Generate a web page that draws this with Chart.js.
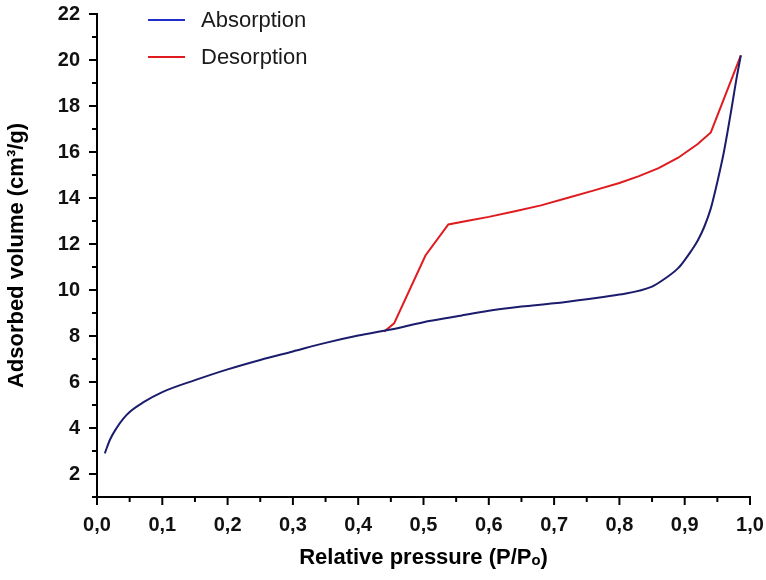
<!DOCTYPE html>
<html>
<head>
<meta charset="utf-8">
<script src="https://cdn.jsdelivr.net/npm/chart.js@4.4.1/dist/chart.umd.min.js"></script>
<style>
  html, body { margin: 0; padding: 0; background: #fff; }
  #wrap { width: 766px; height: 580px; }
</style>
</head>
<body>
<div id="wrap"><canvas id="isotherm" width="766" height="580"></canvas></div>
<script>
const absPressure = [0.012, 0.02, 0.03, 0.04, 0.05, 0.07, 0.1, 0.15, 0.2, 0.25, 0.3, 0.35, 0.4, 0.45,
    0.5, 0.55, 0.6, 0.65, 0.7, 0.75, 0.8, 0.85, 0.87, 0.89, 0.9, 0.91, 0.92, 0.93, 0.94, 0.95, 0.96, 0.97, 0.98, 0.986];
const absVolume = [2.9, 3.5, 4.0, 4.4, 4.7, 5.1, 5.56, 6.08, 6.55, 6.96, 7.33, 7.7, 8.02, 8.28,
    8.6, 8.85, 9.1, 9.28, 9.42, 9.6, 9.8, 10.15, 10.5, 10.95, 11.3, 11.7, 12.15, 12.75, 13.55, 14.7, 16.0, 17.6, 19.3, 20.2];

const desPressure = [0.986, 0.94, 0.92, 0.89, 0.86, 0.83, 0.8, 0.76, 0.72, 0.68, 0.64, 0.6, 0.57, 0.538, 0.503, 0.455, 0.44];
const desVolume = [20.2, 16.85, 16.35, 15.75, 15.3, 14.95, 14.65, 14.32, 14.0, 13.68, 13.42, 13.18, 13.02, 12.85, 11.5, 8.55, 8.2];

const seriesLabels = ['Absorption', 'Desorption'];
const yTickValues = [2, 4, 6, 8, 10, 12, 14, 16, 18, 20, 22];

const toPoints = (xs, ys) => xs.map((x, i) => ({ x: x, y: ys[i] }));

const tickFont = { family: "'Liberation Sans', Arial, sans-serif", size: 20, weight: 'bold' };
const titleFont = { family: "'Liberation Sans', Arial, sans-serif", size: 22, weight: 'bold' };

// draws major + minor tick marks outside the axes
const axisTicks = {
    id: 'axisTicks',
    afterDraw(chart) {
        const ctx = chart.ctx;
        const xs = chart.scales.x, ys = chart.scales.y;
        const area = chart.chartArea;
        ctx.save();
        ctx.strokeStyle = '#000';
        ctx.lineWidth = 2;
        for (let v = 1; v <= 22; v++) {
            const py = ys.getPixelForValue(v);
            const len = v % 2 === 0 ? 8 : 5;
            ctx.beginPath();
            ctx.moveTo(area.left, py);
            ctx.lineTo(area.left - len, py);
            ctx.stroke();
        }
        for (let k = 0; k <= 20; k++) {
            const px = xs.getPixelForValue(k * 0.05);
            const len = k % 2 === 0 ? 8 : 5;
            ctx.beginPath();
            ctx.moveTo(px, area.bottom);
            ctx.lineTo(px, area.bottom + len);
            ctx.stroke();
        }
        ctx.restore();
    }
};

// simple legend inside the plot, line samples only
const insideLegend = {
    id: 'insideLegend',
    afterDraw(chart, args, opts) {
        const ctx = chart.ctx;
        const area = chart.chartArea;
        ctx.save();
        chart.data.datasets.forEach((ds, i) => {
            const y = area.top + 6 + i * 37;
            const x0 = area.left + 51;
            ctx.strokeStyle = opts.colors[i];
            ctx.lineWidth = 2;
            ctx.beginPath();
            ctx.moveTo(x0, y);
            ctx.lineTo(x0 + 37, y);
            ctx.stroke();
            ctx.fillStyle = '#1a1a1a';
            ctx.font = "22px 'Liberation Sans', Arial, sans-serif";
            ctx.textBaseline = 'middle';
            ctx.fillText(ds.label, x0 + 53, y + 1);
        });
        ctx.restore();
    }
};

new Chart(document.getElementById('isotherm'), {
    type: 'line',
    data: {
        datasets: [
            {
                label: seriesLabels[0],
                data: toPoints(absPressure, absVolume),
                borderColor: '#1b1c6c',
                borderWidth: 2,
                pointRadius: 0,
                cubicInterpolationMode: 'monotone',
                fill: false
            },
            {
                label: seriesLabels[1],
                data: toPoints(desPressure, desVolume),
                borderColor: '#e01b1f',
                borderWidth: 2,
                pointRadius: 0,
                tension: 0,
                fill: false
            }
        ]
    },
    options: {
        responsive: false,
        devicePixelRatio: 1,
        animation: false,
        layout: { padding: 0 },
        plugins: {
            legend: { display: false },
            tooltip: { enabled: false },
            insideLegend: { colors: ['#1f2fc8', '#e01b1f'] }
        },
        scales: {
            x: {
                type: 'linear',
                min: 0,
                max: 1,
                grid: { display: false },
                border: { display: true, color: '#000', width: 2 },
                ticks: {
                    stepSize: 0.1,
                    color: '#111',
                    font: tickFont,
                    padding: 8,
                    maxRotation: 0,
                    callback: v => v.toFixed(1).replace('.', ',')
                },
                title: {
                    display: true,
                    text: 'Relative pressure (P/Pₒ)',
                    color: '#000',
                    font: titleFont,
                    padding: { top: 0, bottom: 9 }
                },
                afterFit: s => { s.height = 83; s.paddingLeft = 0; s.paddingRight = 16; }
            },
            y: {
                type: 'linear',
                min: 1,
                max: 22,
                grid: { display: false },
                border: { display: true, color: '#000', width: 2 },
                afterBuildTicks: s => { s.ticks = yTickValues.map(v => ({ value: v })); },
                ticks: {
                    color: '#111',
                    font: tickFont,
                    padding: 9
                },
                title: {
                    display: true,
                    text: 'Adsorbed volume (cm³/g)',
                    color: '#000',
                    font: titleFont,
                    padding: { top: 4, bottom: 0 }
                },
                afterFit: s => { s.width = 97; s.paddingTop = 14; s.paddingBottom = 0; }
            }
        }
    },
    plugins: [axisTicks, insideLegend]
});
</script>
</body>
</html>
